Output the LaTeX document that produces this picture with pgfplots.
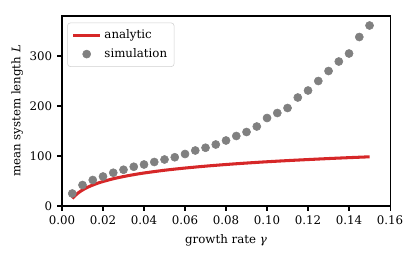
\documentclass[border=0pt]{standalone}
\usepackage{fontspec}
\setmainfont{DejaVu Serif}
\usepackage{pgfplots}
\pgfplotsset{compat=1.18}
\definecolor{ared}{RGB}{214,39,40}
\definecolor{sgray}{RGB}{128,128,128}
\begin{document}
\begin{tikzpicture}[font=\fontsize{8.5}{10}\selectfont]
\begin{axis}[
  scale only axis, width=236.2pt, height=136.8pt,
  xmin=0, xmax=0.16, ymin=0, ymax=380,
  xtick={0,0.02,0.04,0.06,0.08,0.10,0.12,0.14,0.16},
  ytick={0,100,200,300},
  xticklabel style={/pgf/number format/.cd, fixed, fixed zerofill, precision=2},
  /pgf/number format/assume math mode=true,
  tick align=outside, xtick pos=bottom, ytick pos=left,
  major tick length=3.5pt,
  tick style={black, line width=0.8pt},
  axis line style={line width=0.8pt},
  xlabel={growth rate \textit{γ}},
  ylabel={mean system length \textit{L}},
  ylabel style={yshift=-2pt},
  legend style={at={(0.016,0.965)}, anchor=north west, draw=black!18, rounded corners=2pt,
    fill=white, font=\fontsize{8.5}{10}\selectfont, row sep=1.5pt, inner sep=3pt},
  legend cell align=left,
  reverse legend,
  legend image code/.code={\draw[#1] (0pt,0pt) -- (19.4pt,0pt);},
]
\addplot[only marks, color=sgray, mark=*, mark size=2.9pt,
  mark options={draw=sgray, fill=sgray},
  legend image code/.code={\fill[sgray] (9.7pt,0pt) circle (2.9pt);}] coordinates {
(0.005,25) (0.010,42) (0.015,52) (0.020,59) (0.025,66.5) (0.030,72.5) (0.035,78.5)
(0.040,83) (0.045,88) (0.050,93) (0.055,97.5) (0.060,104) (0.065,111) (0.070,116.5)
(0.075,123) (0.080,131) (0.085,140) (0.090,148) (0.095,159) (0.100,176) (0.105,186)
(0.110,196) (0.115,217) (0.120,231) (0.125,250) (0.130,270) (0.135,289) (0.140,305)
(0.145,338) (0.150,361)
};
\addlegendentry{simulation}
\addplot[ared, line width=2.2pt, smooth, line join=round] coordinates {
(0.005,15) (0.0075,24.9) (0.01,32) (0.0125,37.5) (0.015,41.9) (0.0175,45.7) (0.02,49)
(0.025,54.5) (0.03,58.9) (0.035,62.7) (0.04,66) (0.05,71.5) (0.06,75.9) (0.07,79.7)
(0.08,83) (0.09,85.9) (0.10,88.5) (0.11,90.8) (0.12,92.9) (0.13,94.9) (0.14,96.7) (0.15,98.4)
};
\addlegendentry{analytic}
\end{axis}
\pgfresetboundingbox
\path[use as bounding box] (-44.64pt,-36.72pt) rectangle (254.88pt,148.32pt);
\end{tikzpicture}
\end{document}
